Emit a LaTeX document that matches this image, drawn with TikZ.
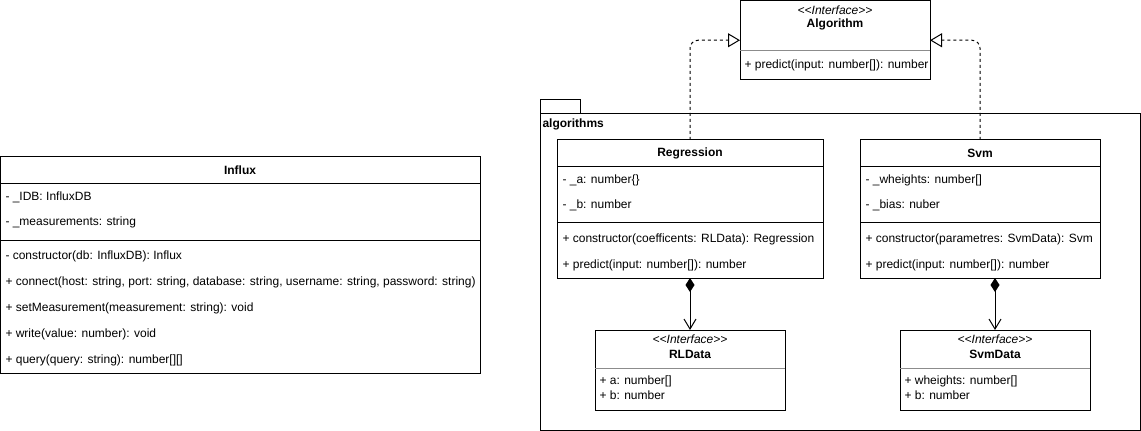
\documentclass[tikz,border=0pt]{standalone}
\usepackage{fontspec}
\setmainfont{Liberation Sans}
\usetikzlibrary{arrows.meta}
\newcommand\ubox[5]{\node[box, minimum width=#4*0.75pt, minimum height=#5*0.75pt] (#1) at (#2,#3) {};}
\newcommand\stereo{<\kern0pt<Interface>\kern0pt>}
\begin{document}
\begin{tikzpicture}[x=0.75pt,y=-0.75pt, line width=0.75pt, font=\fontsize{9}{11}\selectfont,
  box/.style={draw, fill=white, anchor=north west, inner sep=0pt, outer sep=0pt},
  txt/.style={anchor=west, inner sep=0pt},
  ttl/.style={inner sep=0pt, font=\fontsize{9}{11}\selectfont\bfseries},
  ster/.style={inner sep=0pt, font=\fontsize{9}{11}\selectfont\itshape},
  sep/.style={draw=black!45},
  realize/.style={dash pattern=on 2.25pt off 2.25pt, rounded corners=6pt, -{Triangle[open, length=9pt, width=10.5pt]}},
  compo/.style={{Diamond[length=10.5pt, width=6.75pt]}-{Straight Barb[length=7.5pt, width=9pt]}}
]
\useasboundingbox (0,0) rectangle (1141,431);

% package
\ubox{pkgtab}{540}{100}{40}{14}
\ubox{pkg}{540}{114}{600}{316}
\node[ttl, anchor=west] (pkglbl) at (542,124) {algorithms};

% Algorithm interface
\ubox{alg}{740}{0.5}{190}{79.5}
\draw[sep] (740,51) -- (930,51);
\node[ster] (algs) at (835,10) {\stereo};
\node[ttl] (algt) at (835,24) {Algorithm};
\node[txt] (alg1) at (744,65) {+ predict(input: number[]): number};

% Influx
\ubox{influx}{0.5}{157}{480}{216}
\draw (0.5,183) -- (480.5,183);
\draw (0.5,240) -- (480.5,240);
\node[ttl] (inft) at (240,170) {Influx};
\node[txt] (inf1) at (5,197) {- \_IDB: InfluxDB};
\node[txt] (inf2) at (5,222) {- \_measurements: string};
\node[txt] (inf3) at (5,256) {- constructor(db: InfluxDB): Influx};
\node[txt] (inf4) at (5,282) {+ connect(host: string, port: string, database: string, username: string, password: string)};
\node[txt] (inf5) at (5,308) {+ setMeasurement(measurement: string): void};
\node[txt] (inf6) at (5,334) {+ write(value: number): void};
\node[txt] (inf7) at (5,360) {+ query(query: string): number[][]};

% Regression
\ubox{reg}{557}{140}{266}{138}
\draw (557,166) -- (823,166);
\draw (557,222) -- (823,222);
\node[ttl] (regt) at (690,153) {Regression};
\node[txt] (reg1) at (562,180) {- \_a: number\{\}};
\node[txt] (reg2) at (562,205) {- \_b: number};
\node[txt] (reg3) at (562,239) {+ constructor(coefficents: RLData): Regression};
\node[txt] (reg4) at (562,265) {+ predict(input: number[]): number};

% Svm
\ubox{svm}{860}{140}{240}{138}
\draw (860,166) -- (1100,166);
\draw (860,222) -- (1100,222);
\node[ttl] (svmt) at (980,153) {Svm};
\node[txt] (svm1) at (865,180) {- \_wheights: number[]};
\node[txt] (svm2) at (865,205) {- \_bias: nuber};
\node[txt] (svm3) at (865,239) {+ constructor(parametres: SvmData): Svm};
\node[txt] (svm4) at (865,265) {+ predict(input: number[]): number};

% RLData
\ubox{rl}{595}{330}{190}{80}
\draw[sep] (595,368) -- (785,368);
\node[ster] (rls) at (690,339) {\stereo};
\node[ttl] (rlt) at (690,354) {RLData};
\node[txt] (rl1) at (599,381) {+ a: number[]};
\node[txt] (rl2) at (599,395) {+ b: number};

% SvmData
\ubox{sd}{900}{330}{190}{80}
\draw[sep] (900,368) -- (1090,368);
\node[ster] (sds) at (995,339) {\stereo};
\node[ttl] (sdt) at (995,354) {SvmData};
\node[txt] (sd1) at (904,381) {+ wheights: number[]};
\node[txt] (sd2) at (904,395) {+ b: number};

% connectors
\draw[realize] (reg.north) |- (alg.west);
\draw[realize] (svm.north) |- (alg.east);
\draw[compo] (reg.south) -- (rl.north);
\coordinate (svmbot) at (sd.north |- svm.south);
\draw[compo] (svmbot) -- (sd.north);
\end{tikzpicture}
\end{document}
